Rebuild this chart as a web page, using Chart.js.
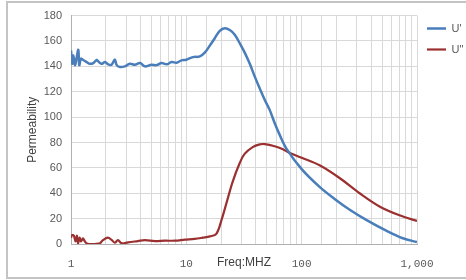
<!DOCTYPE html>
<html>
<head>
<meta charset="utf-8">
<script src="https://cdn.jsdelivr.net/npm/chart.js@4/dist/chart.umd.min.js"></script>
<style>
  body { margin: 0; background: #fff; }
  #wrap { position: relative; width: 466px; height: 280px; overflow: hidden; }
  #frame { position: absolute; left: 6px; top: 1px; width: 470px; height: 274px;
           border: 2px solid #c4c4c4; border-right: none; pointer-events: none; }
  canvas { position: absolute; left: 0; top: 0; }
</style>
</head>
<body>
<div id="wrap">
  <div id="frame"></div>
  <canvas id="permChart" width="466" height="280"></canvas>
</div>
<script>
// U' (real part) - frequency in MHz and permeability
const freqReal = [1.00, 1.026, 1.047, 1.083, 1.12, 1.157, 1.18, 1.22, 1.278, 1.367,
                  1.46, 1.56, 1.67, 1.72, 1.84, 1.97, 2.10, 2.25, 2.40, 2.49,
                  2.66, 2.93, 3.24, 3.58, 3.96, 4.37, 4.99, 5.53, 6.09, 6.75,
                  7.44, 8.22, 9.08, 10.0, 11.4, 13.1, 14.5, 16.0, 17.6, 19.5,
                  21.6, 23.8, 26.3, 29.1, 32.0, 35.5, 39.3, 43.3, 47.9, 52.8,
                  58.3, 64.5, 74, 100, 143, 193, 261, 363, 541, 754,
                  1000];
const uReal = [152.5, 142, 148.6, 141, 147, 153, 141, 146, 145, 143.4,
               142, 142.6, 145, 144, 142, 143.4, 141.6, 141.3, 145.5, 141,
               139.5, 140, 142, 141.3, 142.6, 140, 141.3, 141, 142.6, 141.6,
               143.4, 142.9, 144.7, 145.2, 147.3, 147.8, 151, 156.4, 162, 168,
               170, 168.6, 165, 158, 151, 142, 131.7, 122.6, 113.5, 105.7,
               95.4, 86, 75, 59, 45, 35.5, 27, 19, 10.5, 4.5,
               1.5];

// U'' (imaginary part)
const freqImag = [1.00, 1.02, 1.06, 1.094, 1.127, 1.149, 1.185, 1.22, 1.27, 1.32,
                  1.376, 1.46, 1.61, 1.78, 1.89, 2.09, 2.26, 2.40, 2.55, 2.76,
                  3.12, 3.80, 4.37, 5.34, 6.52, 7.96, 9.72, 11.8, 13.9, 16.0,
                  18.2, 20.2, 22.4, 25.2, 29.1, 32.0, 37.6, 43.3, 47.9, 58.3,
                  68.8, 78, 100, 143, 213, 318, 473, 705, 1000];
const uImag = [5, 7, 6.5, 2, 6.5, 0.5, 5, 2, 4.4, 2,
               0.3, 0, 0, 0.5, 3, 5, 3, 1, 3, 0.5,
               1.3, 2.3, 3, 2.3, 2.6, 2.6, 3.4, 4, 5, 6,
               8, 19, 33, 49, 64, 71, 76.4, 78.5, 78.7, 77,
               74.6, 72, 68, 62, 52, 40, 29.6, 22.6, 18.2];

const seriesNames = ["U'", "U\""];
const yTicks = { min: 0, max: 180, step: 20 };
const xRange = { min: 1, max: 1000 };

document.addEventListener('DOMContentLoaded', function() {
    createPermeabilityChart();
});

function isDecade(v) {
    const l = Math.log10(v);
    return Math.abs(l - Math.round(l)) < 1e-9;
}

function createPermeabilityChart() {
    const ctx = document.getElementById('permChart').getContext('2d');
    const gridColor = '#d9d9d9';
    const textColor = '#595959';

    new Chart(ctx, {
        type: 'line',
        data: {
            datasets: [{
                label: seriesNames[0],
                data: freqReal.map((f, i) => ({ x: f, y: uReal[i] })),
                borderColor: '#4a7ebb',
                backgroundColor: '#4a7ebb',
                borderWidth: 2.5,
                pointRadius: 0,
                tension: 0.35,
                fill: false
            }, {
                label: seriesNames[1],
                data: freqImag.map((f, i) => ({ x: f, y: uImag[i] })),
                borderColor: '#9a3030',
                backgroundColor: '#9a3030',
                borderWidth: 2.2,
                pointRadius: 0,
                tension: 0.35,
                fill: false
            }]
        },
        options: {
            responsive: false,
            animation: false,
            layout: { padding: { left: 0, top: 13, right: 0, bottom: 0 } },
            plugins: {
                tooltip: { enabled: false },
                legend: {
                    position: 'right',
                    align: 'start',
                    maxWidth: 49,
                    labels: {
                        usePointStyle: true,
                        pointStyle: 'line',
                        pointStyleWidth: 19,
                        padding: 10,
                        color: textColor,
                        font: { family: 'Liberation Sans', size: 11 }
                    }
                }
            },
            scales: {
                x: {
                    type: 'logarithmic',
                    min: xRange.min,
                    max: xRange.max,
                    grid: { color: gridColor, drawTicks: false },
                    border: { color: '#b0b0b0' },
                    ticks: {
                        autoSkip: false,
                        maxRotation: 0,
                        padding: 13,
                        color: textColor,
                        font: { family: 'Liberation Mono', size: 11 },
                        callback: function(v) {
                            return isDecade(v) ? Number(v).toLocaleString('en-US') : '';
                        }
                    },
                    title: {
                        display: true,
                        text: 'Freq:MHZ',
                        color: '#404040',
                        font: { family: 'Liberation Sans', size: 12 },
                        padding: { top: 0, bottom: 10 }
                    },
                    afterFit: function(scale) { scale.height = 36; }
                },
                y: {
                    min: yTicks.min,
                    max: yTicks.max,
                    grid: { color: gridColor, drawTicks: false },
                    border: { color: '#b0b0b0' },
                    ticks: {
                        stepSize: yTicks.step,
                        padding: 9,
                        color: textColor,
                        font: { family: 'Liberation Sans', size: 11 }
                    },
                    title: {
                        display: true,
                        text: 'Permeability',
                        color: '#404040',
                        font: { family: 'Liberation Sans', size: 12 },
                        padding: { top: 25, bottom: 0 }
                    },
                    afterFit: function(scale) { scale.width = 71; }
                }
            }
        }
    });
}
</script>
</body>
</html>
